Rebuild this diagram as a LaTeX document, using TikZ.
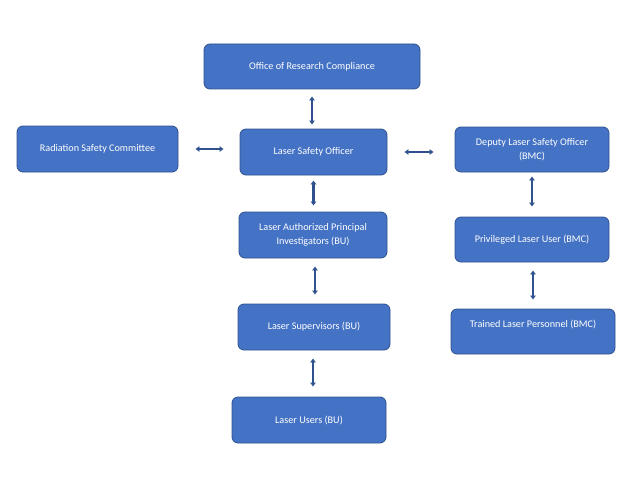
\documentclass[tikz,border=0pt]{standalone}
\usepackage{fontspec}
\setmainfont{Carlito}
\usetikzlibrary{arrows.meta}
\definecolor{boxfill}{HTML}{4472C4}
\definecolor{boxline}{HTML}{2F528F}
\tikzset{
	unit/.style={draw=boxline, line width=0.8pt, fill=boxfill, rounded corners=6pt, text=white, font=\fontsize{10.2}{13.5}\selectfont, align=center, inner sep=0pt},
	link/.style={draw=boxline, line width=2.4pt, {Latex[length=4pt,width=6.5pt]}-{Latex[length=4pt,width=6.5pt]}}
}
\begin{document}
\begin{tikzpicture}[x=1pt,y=-1pt]
			%%%%% START %%%%%
			\useasboundingbox (0,0) rectangle (636,476);
			
			\node[unit, minimum width=216pt, minimum height=45pt] (orc) at (312, 66.5) {Office of Research Compliance};
			\node[unit, minimum width=161pt, minimum height=46pt] (rsc) at (97.5, 149) {Radiation Safety Committee};
			\node[unit, minimum width=147pt, minimum height=46pt] (lso) at (313.5, 152) {Laser Safety Officer};
			\node[unit, minimum width=154pt, minimum height=45pt] (dlso) at (532, 149.5) {Deputy Laser Safety Officer\\(BMC)};
			
			\node[unit, minimum width=148pt, minimum height=46pt] (lapi) at (313, 235) {Laser Authorized Principal\\Investigators (BU)};
			\node[unit, minimum width=152pt, minimum height=46pt] (ls) at (314, 327) {Laser Supervisors (BU)};
			\node[unit, minimum width=154pt, minimum height=46pt] (lu) at (309, 420) {Laser Users (BU)};
			
			\node[unit, minimum width=154pt, minimum height=45pt] (plu) at (532, 239.5) {Privileged Laser User (BMC)};
			\node[unit, minimum width=164pt, minimum height=45pt] (tlp) at (533, 331.5) {Trained Laser Personnel (BMC)\\[2pt]};
			
			\draw[link, shorten <=7pt, shorten >=4pt] (orc.south) -- (orc.south |- lso.north);
			\draw[link, shorten <=17pt, shorten >=16pt] (rsc.east) -- (rsc.east -| lso.west);
			\draw[link, shorten <=17pt, shorten >=21pt] (lso.east) -- (lso.east -| dlso.west);
			\draw[link, shorten <=5pt, shorten >=6pt] (lso.south) -- (lso.south |- lapi.north);
			\draw[link, shorten <=8pt, shorten >=9pt] (lapi.south) ++(2,0) coordinate (lapib) -- (lapib |- ls.north);
			\draw[link, shorten <=8pt, shorten >=10pt] (ls.south) ++(-1,0) coordinate (lsb) -- (lsb |- lu.north);
			\draw[link, shorten <=4pt, shorten >=10pt] (dlso.south) -- (dlso.south |- plu.north);
			\draw[link, shorten <=8pt, shorten >=9pt] (plu.south) ++(1,0) coordinate (plub) -- (plub |- tlp.north);
			
			%%%%% END %%%%%
\end{tikzpicture}
\end{document}
